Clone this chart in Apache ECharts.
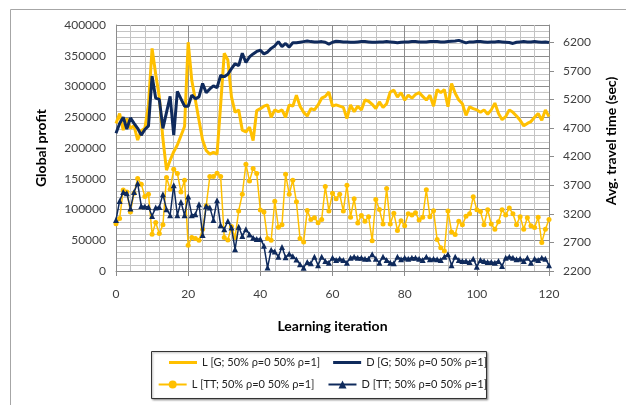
<!DOCTYPE html>
<html>
<head>
<meta charset="utf-8">
<script src="https://cdn.jsdelivr.net/npm/echarts@6/dist/echarts.min.js"></script>
<style>
  html, body { margin: 0; padding: 0; background: #fff; }
  #chart { width: 626px; height: 405px; }
</style>
</head>
<body>
<div id="chart"></div>
<script>
// Learning iterations 0..120
const iterations = Array.from({ length: 121 }, (_, i) => i);

// Global profit (left axis)
const profitL = [240000,256000,229000,248000,232000,236000,213000,228000,232000,270000,
  362000,320000,283000,215000,164000,180000,194000,205000,220000,235000,
  372000,310000,278000,245000,213000,196000,190000,193000,190000,270000,
  354000,343000,283000,258000,262000,229000,226000,234000,212000,261000,
  264000,268000,270000,250000,262000,259000,262000,250000,270000,268000,
  286000,268000,258000,252000,264000,262000,270000,281000,284000,291000,
  268000,270000,268000,266000,248000,270000,259000,268000,262000,278000,
  276000,271000,264000,275000,266000,272000,291000,294000,283000,290000,
  278000,286000,281000,287000,290000,284000,278000,286000,268000,295000,
  290000,295000,267000,305000,289000,278000,272000,253000,267000,264000,
  262000,258000,262000,255000,262000,273000,256000,246000,251000,262000,
  258000,252000,245000,236000,240000,243000,250000,256000,245000,262000,
  251000];

const profitD = [224000,240000,250000,231000,249000,240000,232000,221000,230000,236000,
  317000,281000,279000,232000,258000,284000,221000,292000,280000,268000,
  268000,286000,280000,283000,305000,290000,296000,301000,298000,318000,
  316000,320000,329000,337000,334000,354000,339000,348000,353000,357000,
  359000,353000,356000,362000,366000,373000,365000,370000,364000,371000,
  371000,372000,373000,374000,373000,372500,372500,373000,372000,369000,
  372000,373500,373000,372500,372500,372000,372000,372500,373000,373000,
  372500,372000,372000,372500,372500,373000,372500,372000,371000,372000,
  372500,372500,373000,373000,372500,372500,372500,373000,373000,373000,
  372500,372500,373000,373500,374000,375000,373000,371000,372500,372500,
  373000,373000,372500,372000,372500,372500,373000,372500,372000,371500,
  370000,372000,372500,373000,372500,372500,373000,372500,372000,372500,
  371500];

// Average travel time in seconds (right axis)
const travelL = [3028,3116,3618,3583,3233,3560,3815,3718,3502,3543,
  2843,3047,2855,3007,3835,3630,3980,3905,3583,3787,
  2650,2784,2767,2737,2930,3340,3852,3852,3910,3852,
  2784,2742,2976,2784,3250,3541,4066,3775,3990,3903,
  3266,3233,2767,2737,3420,2965,3010,3892,3543,3787,
  3410,2767,2708,3256,3100,3130,3045,3100,3676,3250,
  3560,3465,3540,3250,3700,3140,3465,3040,3170,3070,
  3150,2730,3450,3275,3020,3640,3020,3210,2910,3080,
  2990,3200,3180,3220,3090,3140,3620,3150,3255,2750,
  2605,2550,3250,2880,2840,3070,3010,3155,3200,3500,
  3270,3240,3010,3270,3020,2930,3060,3270,3180,3300,
  3200,3010,3150,2930,3130,2990,2960,3140,2700,2930,
  3100];

const travelD = [3093,3425,3583,3560,3291,3583,3734,3338,3326,3320,
  3163,3308,3320,3541,3280,3175,3700,3175,3408,3175,
  3501,3175,3192,3367,2830,3338,3308,3093,3437,2999,
  2930,3075,2960,2580,2975,2810,2930,2840,2780,2760,
  2760,2640,2260,2570,2540,2450,2620,2440,2500,2460,
  2400,2317,2258,2358,2334,2451,2299,2451,2375,2346,
  2433,2393,2416,2393,2346,2433,2451,2433,2433,2416,
  2416,2492,2416,2346,2451,2393,2346,2334,2451,2404,
  2433,2416,2433,2433,2416,2393,2451,2404,2416,2404,
  2393,2451,2492,2299,2451,2393,2375,2375,2358,2416,
  2276,2393,2375,2358,2358,2346,2375,2288,2433,2451,
  2433,2404,2416,2375,2433,2346,2416,2393,2433,2416,
  2299];

const seriesNames = [
  'L [G; 50% ρ=0 50% ρ=1]',
  'D [G; 50% ρ=0 50% ρ=1]',
  'L [TT; 50% ρ=0 50% ρ=1]',
  'D [TT; 50% ρ=0 50% ρ=1]'
];
const travelTicks = [2200, 2700, 3200, 3700, 4200, 4700, 5200, 5700, 6200];

const GOLD = '#FFC000';
const NAVY = '#0F2A5C';
const FONT = 'Lato, "DejaVu Sans", sans-serif';

const pairs = arr => iterations.map((x, i) => [x, arr[i]]);
const plain = v => String(v);

// plain thick line used as the legend key of the unmarked series
const LINE_ICON = 'path://M0,0 L28,0 L28,3 L0,3 Z';

const chart = echarts.init(document.getElementById('chart'), null, { renderer: 'canvas' });

const legendText = { fontFamily: FONT, fontSize: 11, color: '#222' };

chart.setOption({
  animation: false,
  backgroundColor: '#fff',
  textStyle: { fontFamily: FONT },
  graphic: [
    { type: 'rect', shape: { x: 10.5, y: 9.5, width: 640, height: 420 },
      style: { fill: 'none', stroke: '#a6a6a6', lineWidth: 1 }, silent: true },
    { type: 'rect', shape: { x: 151.5, y: 351.5, width: 335, height: 47 },
      style: { fill: '#fff', stroke: '#333', lineWidth: 1,
        shadowBlur: 2, shadowOffsetX: 1, shadowOffsetY: 1, shadowColor: 'rgba(0,0,0,0.35)' },
      z: 0, silent: true }
  ],
  legend: [
    { data: [{ name: seriesNames[0], icon: LINE_ICON }, { name: seriesNames[1], icon: LINE_ICON }],
      right: 139, top: 357, itemGap: 13,
      itemWidth: 28, itemHeight: 10, padding: 0, textStyle: legendText, z: 10 },
    { data: [seriesNames[2], seriesNames[3]], right: 139, top: 379, itemGap: 13,
      itemWidth: 28, itemHeight: 10, padding: 0, textStyle: legendText, z: 10 }
  ],
  grid: { left: 116, top: 25, width: 436, height: 246, containLabel: false },
  xAxis: {
    type: 'value', min: 0, max: 120, interval: 20,
    axisLine: { show: true, lineStyle: { color: '#8c8c8c' } },
    axisTick: { show: true, length: 5, lineStyle: { color: '#8c8c8c' } },
    axisLabel: { fontSize: 12, color: '#404040', margin: 17, fontFamily: FONT, formatter: plain },
    splitLine: { show: true, lineStyle: { color: '#8c8c8c', width: 1 } },
    minorTick: { show: false, splitNumber: 5 },
    minorSplitLine: { show: true, lineStyle: { color: '#c4c4c4', width: 1 } },
    name: 'Learning iteration', nameLocation: 'middle', nameGap: 48,
    nameTextStyle: { fontSize: 14, fontWeight: 'bold', color: '#000', fontFamily: FONT }
  },
  yAxis: [
    {
      type: 'value', min: 0, max: 400000, interval: 50000,
      axisLine: { show: true, lineStyle: { color: '#8c8c8c' } },
      axisTick: { show: false },
      axisLabel: { fontSize: 12, color: '#404040', margin: 10, fontFamily: FONT, formatter: plain },
      splitLine: { show: true, lineStyle: { color: '#8c8c8c', width: 1 } },
      minorTick: { show: false, splitNumber: 5 },
      minorSplitLine: { show: true, lineStyle: { color: '#c4c4c4', width: 1 } },
      name: 'Global profit', nameLocation: 'middle', nameGap: 68, nameRotate: 90,
      nameTextStyle: { fontSize: 14, fontWeight: 'bold', color: '#000', fontFamily: FONT }
    },
    {
      type: 'value', min: 2200, max: 6500, position: 'right',
      axisLine: { show: true, lineStyle: { color: '#8c8c8c' } },
      axisTick: { show: true, length: 5, customValues: travelTicks, lineStyle: { color: '#8c8c8c' } },
      axisLabel: { fontSize: 12, color: '#404040', margin: 14, fontFamily: FONT,
        customValues: travelTicks, formatter: plain },
      splitLine: { show: false },
      name: 'Avg. travel time (sec)', nameLocation: 'middle', nameGap: 55, nameRotate: 90,
      nameTextStyle: { fontSize: 14, fontWeight: 'bold', color: '#000', fontFamily: FONT,
        padding: [0, 0, 0, 14] }
    }
  ],
  series: [
    { name: seriesNames[0], type: 'line', yAxisIndex: 0, data: pairs(profitL),
      symbol: 'none', lineStyle: { color: GOLD, width: 3 }, itemStyle: { color: GOLD }, z: 2 },
    { name: seriesNames[1], type: 'line', yAxisIndex: 0, data: pairs(profitD),
      symbol: 'none', lineStyle: { color: NAVY, width: 3 }, itemStyle: { color: NAVY }, z: 3 },
    { name: seriesNames[2], type: 'line', yAxisIndex: 1, data: pairs(travelL),
      symbol: 'circle', symbolSize: 5, showAllSymbol: true,
      lineStyle: { color: GOLD, width: 1.5 }, itemStyle: { color: GOLD }, z: 4 },
    { name: seriesNames[3], type: 'line', yAxisIndex: 1, data: pairs(travelD),
      symbol: 'triangle', symbolSize: 6, showAllSymbol: true,
      lineStyle: { color: NAVY, width: 1.5 }, itemStyle: { color: NAVY }, z: 5 }
  ]
});
</script>
</body>
</html>
